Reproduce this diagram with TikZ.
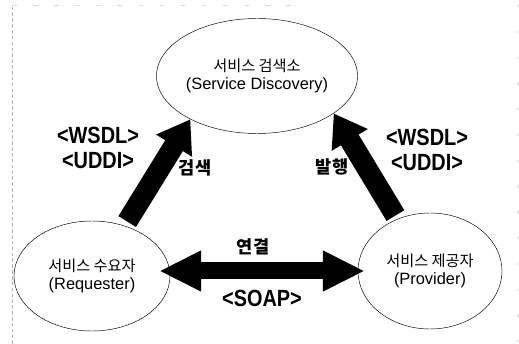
\documentclass[tikz,border=0pt]{standalone}
\usepackage{fontspec}
\setmainfont{Liberation Sans}
\newfontfamily\krfont{Noto Sans CJK KR}
\usepackage{tikz}
\usetikzlibrary{shapes.geometric,arrows.meta}

\tikzset{
  entity/.style={ellipse, draw, thin, inner sep=0pt, align=center,
    font=\fontsize{14}{16}\selectfont},
  flow/.style={line width=0.62cm, -{Triangle[length=0.93cm,width=1.2cm]}},
  link/.style={line width=0.51cm,
    {Triangle[length=1.26cm,width=1.14cm]}-{Triangle[length=1.26cm,width=1.14cm]}},
  tag/.style={inner sep=0pt, align=center, xscale=0.85,
    font=\fontsize{20}{21.5}\selectfont\bfseries},
  verb/.style={inner sep=0pt, font=\krfont\bfseries\fontsize{15}{17}\selectfont}
}

\begin{document}
\begin{tikzpicture}[x=0.03cm,y=-0.03cm]
\useasboundingbox (0,0) rectangle (519,344);
\draw[gray!60, densely dashed, very thin] (12,344) -- (12,5);
\draw[gray!30, dash pattern=on 4pt off 14pt, very thin] (12,5) -- (300,5);
\draw[gray!30, dash pattern=on 2pt off 20pt, very thin] (517,5) -- (517,344);
% the three parties
\node[entity, minimum width=5.46cm, minimum height=3.45cm] (disc) at (257,76)
  {{\krfont\fontsize{13}{16}\selectfont 서비스 검색소}\\(Service Discovery)};
\node[entity, minimum width=4.68cm, minimum height=3.3cm] (req) at (92,276)
  {{\krfont\fontsize{13}{16}\selectfont 서비스 수요자}\\(Requester)};
\node[entity, minimum width=4.32cm, minimum height=3.48cm] (prov) at (430,271)
  {{\krfont\fontsize{13}{16}\selectfont 서비스 제공자}\\(Provider)};
% arrows
\draw[flow, shorten <=0.15cm] (req.57) -- (disc.213);
\draw[flow, shorten <=0.12cm] (prov.122) -- (disc.-26);
\draw[link, shorten <=-0.33cm, shorten >=-0.21cm] (req.east |- prov.west) -- (prov.west);
% labels
\node[tag] (wsdlL) at (98,148) {<WSDL>\\<UDDI>};
\node[tag] (wsdlR) at (427,150) {<WSDL>\\<UDDI>};
\node[verb] (find) at (195,168) {검색};
\node[verb] (publish) at (332,167) {발행};
\node[verb] (bind) at (253,247) {연결};
\node[tag] (soap) at (262,298) {<SOAP>};
\end{tikzpicture}
\end{document}
